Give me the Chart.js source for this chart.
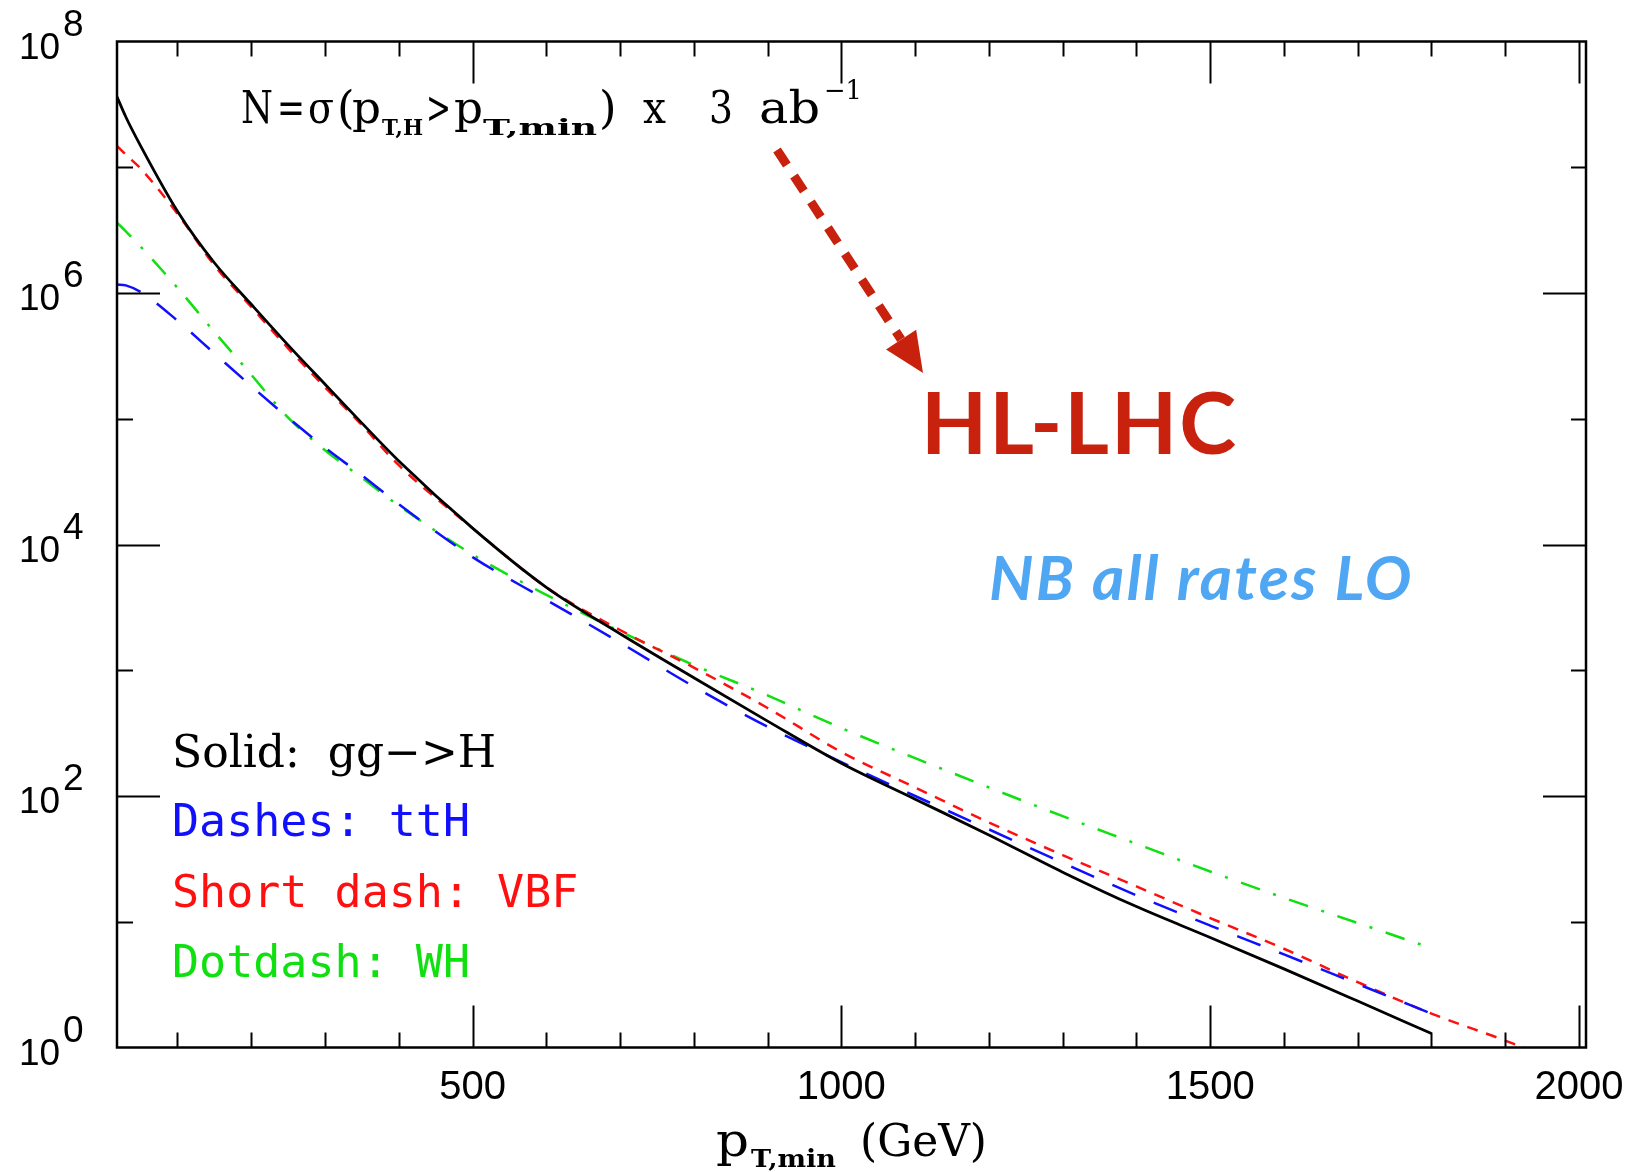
<!DOCTYPE html>
<html lang="en">
<head>
<meta charset="UTF-8">
<title>Higgs rates at HL-LHC</title>
<script src="https://cdn.jsdelivr.net/npm/chart.js@4.4.1/dist/chart.umd.min.js"></script>
<style>
    html, body { margin: 0; padding: 0; background: #fff; }
    .wrap { width: 1629px; height: 1172px; position: relative; }
</style>
</head>
<body>
<div class="wrap"><canvas id="rates"></canvas></div>
<script>
    // p_T,min in GeV
    const ptMin = [18, 30, 50, 100, 150, 200, 250, 300, 350, 400, 500, 600, 700, 800, 900,
                   1000, 1100, 1200, 1300, 1400, 1500, 1600, 1700, 1800, 1900, 1950];

    // N = sigma(pT,H > pT,min) x 3 ab^-1
    const ggH = [3.63e7, 2.51e7, 1.48e7, 4.47e6, 1.74e6, 8.13e5, 3.85e5, 1.88e5, 9.23e4, 4.62e4, 1.35e4, 4570, 1950, 871, 394,
                 182, 94.4, 49.0, 24.8, 13.2, 7.50, 4.22, 2.34, 1.29, null, null];
    const ttH = [1.17e6, 1.15e6, 1.02e6, 6.03e5, 3.31e5, 1.82e5, 1.02e5, 5.89e4, 3.55e4, 2.09e4, 7940, 3630, 1660, 741, 355,
                 186, 100, 54.3, 29.5, 16.2, 9.33, 5.50, 3.20, 1.86, null, null];
    const vbf = [1.48e7, 1.26e7, 9.77e6, 4.27e6, 1.66e6, 7.76e5, 3.63e5, 1.78e5, 8.91e4, 4.27e4, 1.35e4, 4570, 2090, 1050, 501,
                 224, 117, 61.7, 33.9, 19.1, 10.7, 6.10, 3.31, 1.86, 1.135, 0.87];
    const wh  = [3.63e6, 3.09e6, 2.34e6, 1.10e6, 4.90e5, 2.24e5, 1.02e5, 5.62e4, 3.39e4, 2.04e4, 8320, 3980, 2040, 1100, 631,
                 347, 200, 117, 69.2, 41.7, 25.1, 15.5, 9.77, 6.17, null, null];

    const xMajor = [500, 1000, 1500, 2000];
    const xLabels = ['500', '1000', '1500', '2000'];
    const yExponents = [0, 2, 4, 6, 8];

    const legendLines = [
        { text: 'Dashes: ttH', color: '#1010ff' },
        { text: 'Short dash: VBF', color: '#ff1010' },
        { text: 'Dotdash: WH', color: '#10e010' }
    ];

    function pts(vals) {
        return ptMin.map((x, i) => ({ x: x, y: vals[i] }));
    }

    function seg(ctx, x1, y1, x2, y2) {
        ctx.beginPath();
        ctx.moveTo(x1, y1);
        ctx.lineTo(x2, y2);
        ctx.stroke();
    }

    // text pieces placed at their own x; w stretches a piece to a width
    function pieces(ctx, y, parts) {
        for (const p of parts) {
            ctx.font = p.font;
            const sx = p.w ? p.w / ctx.measureText(p.t).width : 1;
            ctx.save();
            ctx.translate(p.x, y + (p.dy || 0));
            ctx.scale(sx, 1);
            ctx.fillText(p.t, 0, 0);
            ctx.restore();
        }
    }

    const serif = '"DejaVu Serif", serif';
    const big = '45px ' + serif;
    const sub = 'bold 23px ' + serif;

    const frame = {
        id: 'frame',
        afterDatasetsDraw(chart) {
            const { ctx, chartArea: a, scales: { x, y } } = chart;
            ctx.save();
            ctx.strokeStyle = '#000';
            ctx.fillStyle = '#000';
            ctx.lineCap = 'butt';

            // box
            ctx.lineWidth = 2.5;
            ctx.strokeRect(a.left, a.top, a.right - a.left, a.bottom - a.top);

            // x ticks, every 100 GeV
            ctx.lineWidth = 2;
            for (let v = 100; v <= 2000; v += 100) {
                const px = Math.round(x.getPixelForValue(v)) + 0.5;
                const len = xMajor.includes(v) ? 42 : 15;
                seg(ctx, px, a.bottom, px, a.bottom - len);
                seg(ctx, px, a.top, px, a.top + len);
            }
            // y ticks, every decade
            for (let e = 1; e < 8; e++) {
                const py = Math.round(y.getPixelForValue(Math.pow(10, e))) + 0.5;
                const major = yExponents.includes(e);
                seg(ctx, a.left, py, a.left + (major ? 43 : 16), py);
                seg(ctx, a.right, py, a.right - (major ? 43 : 15), py);
            }

            // x tick labels
            ctx.font = '40px "Liberation Sans", sans-serif';
            ctx.textAlign = 'center';
            ctx.textBaseline = 'alphabetic';
            xMajor.forEach((v, i) => {
                ctx.fillText(xLabels[i], x.getPixelForValue(v), 1099);
            });

            // y tick labels 10^n
            ctx.textAlign = 'left';
            ctx.font = '37px "Liberation Sans", sans-serif';
            yExponents.forEach(e => {
                const py = y.getPixelForValue(Math.pow(10, e));
                ctx.fillText('10', 19, py + 17);
                ctx.fillText(String(e), 63, py - 6);
            });

            // x axis title
            pieces(ctx, 1156, [
                { t: 'p', x: 716, font: '46px ' + serif, w: 33 },
                { t: 'T,min', x: 751, font: 'bold 24px ' + serif, dy: 11, w: 85 },
                { t: '(GeV)', x: 860, font: '45px ' + serif, w: 127 }
            ]);

            // formula at top
            pieces(ctx, 123, [
                { t: 'N', x: 241, font: big, w: 32 },
                { t: '=', x: 277, font: big, w: 28 },
                { t: 'σ', x: 308, font: big, w: 26 },
                { t: '(', x: 337, font: big },
                { t: 'p', x: 352, font: big, w: 29 },
                { t: 'T,H', x: 382, font: sub, dy: 12, w: 41 },
                { t: '>', x: 426, font: big, w: 25 },
                { t: 'p', x: 454, font: big, w: 29 },
                { t: 'T,min', x: 483, font: sub, dy: 12, w: 114 },
                { t: ')', x: 599, font: big },
                { t: 'x', x: 643, font: big, w: 23 },
                { t: '3', x: 709, font: big, w: 24 },
                { t: 'ab', x: 759, font: big, w: 61 },
                { t: '−1', x: 824, font: '26px ' + serif, dy: -24, w: 38 }
            ]);

            // legend text
            ctx.fillStyle = '#000';
            ctx.font = '44px ' + serif;
            ctx.fillText('Solid:  gg−>H', 172, 767);
            ctx.font = '45px "DejaVu Sans Mono", monospace';
            legendLines.forEach((l, i) => {
                ctx.fillStyle = l.color;
                ctx.fillText(l.text, 172, 836 + i * 70.5);
            });

            // dashed arrow
            const red = '#c8220e';
            const x0 = 777, y0 = 150, x1 = 923, y1 = 373;
            const ang = Math.atan2(y1 - y0, x1 - x0);
            const headLen = 40, headW = 18;
            const bx = x1 - headLen * Math.cos(ang), by = y1 - headLen * Math.sin(ang);
            ctx.strokeStyle = red;
            ctx.fillStyle = red;
            ctx.lineWidth = 9;
            ctx.setLineDash([18, 13]);
            seg(ctx, x0, y0, bx, by);
            ctx.setLineDash([]);
            ctx.beginPath();
            ctx.moveTo(x1, y1);
            ctx.lineTo(bx + headW * Math.sin(ang), by - headW * Math.cos(ang));
            ctx.lineTo(bx - headW * Math.sin(ang), by + headW * Math.cos(ang));
            ctx.closePath();
            ctx.fill();

            ctx.font = 'bold 86px Lato, sans-serif';
            ctx.letterSpacing = '2px';
            ctx.fillText('HL-LHC', 921, 454);

            ctx.fillStyle = '#4fa6f2';
            ctx.font = 'italic bold 62px Lato, sans-serif';
            ctx.letterSpacing = '2.3px';
            ctx.fillText('NB all rates LO', 989, 600);
            ctx.letterSpacing = '0px';

            ctx.restore();
        }
    };

    new Chart(document.getElementById('rates'), {
        type: 'line',
        data: {
            datasets: [
                { label: 'gg->H', data: pts(ggH), borderColor: '#000000', borderWidth: 2.8 },
                { label: 'ttH', data: pts(ttH), borderColor: '#1010ff', borderWidth: 2.5, borderDash: [25, 20] },
                { label: 'VBF', data: pts(vbf), borderColor: '#ff1010', borderWidth: 2.5, borderDash: [11, 9] },
                { label: 'WH', data: pts(wh), borderColor: '#10e010', borderWidth: 2.5, borderDash: [20, 14, 3, 14] }
            ]
        },
        options: {
            responsive: true,
            maintainAspectRatio: false,
            animation: false,
            layout: { padding: { left: 117, right: 43, top: 41.5, bottom: 124.5 } },
            elements: {
                point: { radius: 0 },
                line: { cubicInterpolationMode: 'monotone', fill: false }
            },
            plugins: {
                legend: { display: false },
                tooltip: { enabled: false }
            },
            scales: {
                x: { type: 'linear', display: false, min: 18, max: 2009.5 },
                y: { type: 'logarithmic', display: false, min: 1, max: 1e8 }
            }
        },
        plugins: [frame]
    });
</script>
</body>
</html>
